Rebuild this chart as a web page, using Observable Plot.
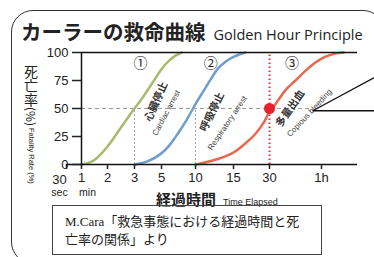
<!DOCTYPE html>
<html><head><meta charset="utf-8">
<script src="https://cdn.jsdelivr.net/npm/d3@7"></script>
<script src="https://cdn.jsdelivr.net/npm/@observablehq/plot@0.6"></script>
<style>
html,body{margin:0;padding:0;background:#fff;overflow:hidden;}
#wrap{position:relative;width:374px;height:257px;overflow:hidden;font-family:"Noto Sans CJK JP",sans-serif;color:#222;}
#chart{position:absolute;left:0;top:0;}
.abs{position:absolute;white-space:nowrap;}
</style></head><body>
<div id="wrap">
  <div class="abs" style="left:11px;top:10px;width:372px;height:252px;border:1.5px solid #333;border-radius:22px;"></div>
  <div id="chart"></div>
  <div class="abs" style="left:21px;top:17px;line-height:28px;"><span style="font-size:20.5px;font-weight:bold;">カーラーの救命曲線</span><span style="font-family:'Open Sans',sans-serif;font-size:14.5px;margin-left:8px;">Golden Hour Principle</span></div>
  <div class="abs" style="left:23px;top:65px;font-size:14px;line-height:15px;writing-mode:vertical-rl;">死亡率<span style="font-size:12px;">(%)</span></div>
  <div class="abs" style="left:27px;top:128px;font-size:7.5px;line-height:8px;writing-mode:vertical-rl;font-family:'Liberation Sans',sans-serif;">Fatality Rate (%)</div>
  <div class="abs" style="left:156px;top:188px;line-height:20px;"><span style="font-size:15px;font-weight:bold;">経過時間</span><span style="font-size:9px;margin-left:7px;font-family:'Liberation Sans',sans-serif;">Time Elapsed</span></div>
  <div class="abs" style="left:52px;top:205px;width:270px;height:50px;border:1px solid #444;box-sizing:border-box;padding:7px 0 0 12px;font-size:13px;line-height:18px;font-family:'Liberation Serif','Noto Sans CJK JP',serif;">M.Cara「救急事態における経過時間と死<br>亡率の関係」より</div>
</div>
<script>
// x values are minutes elapsed, y values fatality rate (%)
const tickValues = [0.5, 1, 2, 3, 5, 10, 15, 30, 60];
const tickLabels = ["30", "1", "2", "3", "5", "10", "15", "30", "1h"];
const unitLabels = [{x: 0.5, label: "sec"}, {x: 1, label: "min"}];
const yTicks = [0, 25, 50, 75, 100];

const cardiac = [[1,0],[1.5,4],[2,16],[2.5,33],[3,50],[3.5,58],[4,67],[4.5,76],[5,85],[6,92],[7,97],[8,100]];
const respiratory = [[3,0],[4,3],[5,10],[6,16],[7,24],[8,33],[9,43],[10,54],[11,65],[12,76],[13,86],[14,92],[15,96],[17,98],[20,100]];
const bleeding = [[10,0],[12.5,4],[16,12],[20,19],[24,27],[28,39],[30,47],[33.5,54],[39,66],[45,75],[51,84],[56.5,91],[62,96],[68,99],[73,100]];

const refLevel = 50;
const refLineEnd = 55;
const markerTimes = [3, 10];
const criticalPoint = [{x: 30, y: 50}];
const circledNums = [{x: 3.45, y: 90, label: "①"}, {x: 12, y: 90, label: "②"}, {x: 43, y: 90, label: "③"}];
const jpLabels = [
  {x: 4.6, y: 56, label: "心臓停止", angle: -66},
  {x: 12.2, y: 47, label: "呼吸停止", angle: -64},
  {x: 42, y: 50, label: "多量出血", angle: -55}
];
const enLabels = [
  {x: 5.7, y: 46, label: "Cardiac arrest", angle: -62},
  {x: 14.2, y: 37, label: "Respiratory arrest", angle: -56},
  {x: 53, y: 46, label: "Copious bleeding", angle: -47}
];
const callout = [{x: 95, y: 81}, {x: 55, y: 48}, {x: 95, y: 48}];

// uneven time axis: breakpoints (minutes) and their relative positions along the axis
const xBreaks = [0.5, 1, 2, 3, 5, 10, 15, 30, 60, 81];
const xSpacing = [0, 15, 41, 68, 95, 129, 167, 203, 255, 291];
const warp = d3.scaleLinear().domain(xBreaks).range(xSpacing);

const plot = Plot.plot({
  width: 374, height: 257,
  marginLeft: 66, marginRight: 17, marginTop: 52, marginBottom: 93,
  style: {fontFamily: "'Liberation Sans', Arial, sans-serif", fontSize: "13px", background: "transparent", color: "#222"},
  x: {type: "linear", transform: warp, domain: [xSpacing[0], xSpacing[xSpacing.length - 1]]},
  y: {domain: [0, 100], axis: null},
  marks: [
    Plot.ruleY([refLevel], {x1: 1, x2: refLineEnd, stroke: "#999", strokeDasharray: "4,3", strokeWidth: 1}),
    Plot.ruleX(markerTimes, {y1: 0, y2: refLevel, stroke: "#aaa", strokeDasharray: "2,2", strokeWidth: 1}),
    Plot.ruleX(criticalPoint, {x: "x", y1: 0, y2: 100, stroke: "#e0303a", strokeDasharray: "1.5,2.5", strokeWidth: 2}),
    Plot.line(cardiac, {x: d => d[0], y: d => d[1], stroke: "#a6ba6c", strokeWidth: 2.5, curve: "monotone-x"}),
    Plot.line(respiratory, {x: d => d[0], y: d => d[1], stroke: "#6f9dcc", strokeWidth: 2.5, curve: "monotone-x"}),
    Plot.line(bleeding, {x: d => d[0], y: d => d[1], stroke: "#e8674f", strokeWidth: 2.5, curve: "monotone-x"}),
    Plot.ruleY([100], {x1: 1, x2: xBreaks[xBreaks.length - 1], stroke: "#111", strokeWidth: 1.5}),
    Plot.ruleY([0], {stroke: "#111", strokeWidth: 1.5}),
    Plot.ruleX([1], {y1: 0, y2: 100, stroke: "#111", strokeWidth: 1.5}),
    Plot.axisY(yTicks, {anchor: "left", dx: 15, tickSize: 9, tickPadding: 4, fontSize: 13, label: null, strokeWidth: 1.5}),
    Plot.axisX(tickValues, {tickSize: 5, tickPadding: 3, fontSize: 13, label: null, strokeWidth: 1.5,
      tickFormat: (d, i) => (i === 0 ? "" : tickLabels[i])}),
    Plot.text([tickLabels[0]], {x: tickValues[0], y: 0, dy: 15, dx: -7, fontSize: 13}),
    Plot.text([unitLabels[0]], {x: "x", y: () => 0, text: "label", dy: 28, dx: -7, fontSize: 10.5}),
    Plot.text([unitLabels[1]], {x: "x", y: () => 0, text: "label", dy: 28, dx: 6, fontSize: 10.5}),
    Plot.text(circledNums, {x: "x", y: "y", text: "label", fontSize: 14, fontFamily: "Noto Sans CJK JP", fill: "#222"}),
    Plot.text(jpLabels, {x: "x", y: "y", text: "label", rotate: "angle", fontSize: 10.5, fontWeight: "bold", fontFamily: "Noto Sans CJK JP", fill: "#333"}),
    Plot.text(enLabels, {x: "x", y: "y", text: "label", rotate: "angle", fontSize: 8, fontFamily: "'Liberation Sans', sans-serif", fill: "#444"}),
    Plot.line(callout, {x: "x", y: "y", stroke: "#111", strokeWidth: 1.3, clip: false}),
    Plot.dot(criticalPoint, {x: "x", y: "y", r: 5.5, fill: "#e8202a"})
  ]
});
document.getElementById("chart").appendChild(plot);
</script>
</body></html>
